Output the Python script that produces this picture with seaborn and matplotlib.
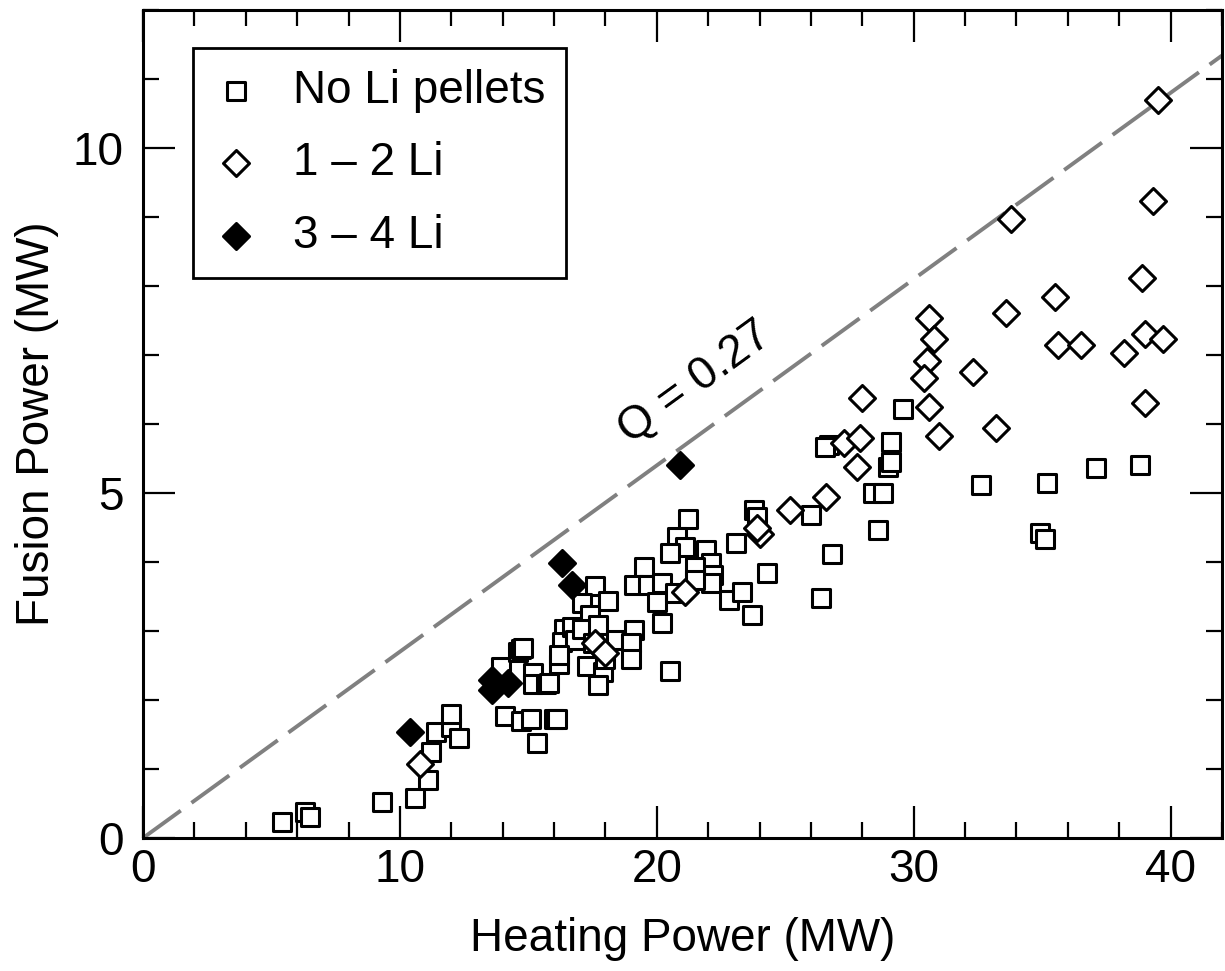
import matplotlib
matplotlib.use('Agg')
import matplotlib.pyplot as plt
from matplotlib.ticker import MultipleLocator
import numpy as np
import pandas as pd
import seaborn as sns

# data (MW)
no_li_x = [5.4, 6.3, 6.5, 9.3, 10.6, 11.1, 11.2, 11.4, 12.0, 12.0, 12.3,
           14.1, 14.7, 15.1, 16.0, 16.1, 15.35, 13.95, 14.6, 14.7, 14.8,
           15.2, 15.2, 15.7, 16.4, 16.3, 16.2, 16.7, 16.8, 16.2, 17.6, 18.1,
           17.1, 17.4, 17.1, 17.7, 18.4, 19.1, 19.0, 19.0, 17.3, 17.9, 17.7,
           20.5, 15.8, 21.2, 20.8, 21.1, 20.5, 21.9, 22.1, 22.2, 22.1, 19.5,
           19.1, 19.65, 20.2, 20.0, 20.2, 20.7, 21.5, 21.5, 22.8, 23.3, 23.7,
           23.8, 23.9, 23.1, 24.3, 26.0, 26.8, 26.4, 26.7, 26.55, 28.4, 28.8,
           28.6, 29.0, 29.1, 29.6, 29.1, 32.6, 35.2, 37.1, 38.8, 34.9, 35.1,
           17.5, 18.0]
no_li_y = [0.23, 0.38, 0.30, 0.52, 0.58, 0.84, 1.25, 1.54, 1.61, 1.80, 1.45,
           1.77, 1.70, 1.72, 1.72, 1.72, 1.38, 2.48, 2.70, 2.74, 2.75,
           2.39, 2.23, 2.23, 3.03, 2.84, 2.52, 3.06, 2.87, 2.65, 3.65, 3.43,
           3.40, 3.23, 3.03, 3.09, 2.87, 3.01, 2.83, 2.60, 2.50, 2.41, 2.22,
           2.42, 2.25, 4.62, 4.36, 4.22, 4.13, 4.17, 3.99, 3.81, 3.70, 3.93,
           3.67, 3.67, 3.70, 3.42, 3.12, 3.55, 3.93, 3.74, 3.45, 3.57, 3.23,
           4.75, 4.65, 4.28, 3.84, 4.68, 4.12, 3.48, 5.70, 5.66, 5.00, 5.00,
           4.46, 5.38, 5.74, 6.22, 5.45, 5.12, 5.14, 5.36, 5.41, 4.42, 4.33,
           2.82, 2.60]

li12_x = [10.8, 17.6, 18.0, 21.1, 24.0, 23.9, 25.2, 26.6, 27.3, 27.9, 27.8,
          28.0, 30.6, 30.8, 30.5, 30.4, 30.6, 31.0, 32.3, 33.2, 33.6, 33.8,
          35.5, 35.6, 36.5, 38.2, 39.0, 39.7, 39.0, 38.9, 39.3, 39.5]
li12_y = [1.07, 2.83, 2.68, 3.57, 4.41, 4.50, 4.75, 4.94, 5.72, 5.80, 5.38,
          6.38, 7.54, 7.23, 6.91, 6.67, 6.25, 5.83, 6.75, 5.94, 7.61, 8.97,
          7.84, 7.14, 7.14, 7.03, 7.30, 7.23, 6.30, 8.12, 9.23, 10.70]

li34_x = [10.4, 13.6, 13.6, 14.2, 16.3, 16.7, 20.9]
li34_y = [1.54, 2.29, 2.14, 2.25, 3.99, 3.67, 5.41]

Q = 0.27
x_max = 42
y_max = 12

sns.set_style("ticks")
plt.rcParams['font.family'] = ['Liberation Sans', 'DejaVu Sans']
plt.rcParams['text.color'] = 'black'
plt.rcParams['axes.labelcolor'] = 'black'
plt.rcParams['xtick.color'] = 'black'
plt.rcParams['ytick.color'] = 'black'

fig = plt.figure(figsize=(12.25, 9.71), dpi=100)
ax = fig.add_axes([143 / 1225, 1 - 838 / 971, (1222 - 143) / 1225, (838 - 10) / 971])

# Q = 0.27 reference line
qx = np.array([0, x_max])
ax.plot(qx, Q * qx, color='#808080', lw=2.8, linestyle=(0, (12, 3.4)), zorder=1)

ms = 175
sns.scatterplot(x=no_li_x, y=no_li_y, marker='s', s=ms, color='white',
                edgecolor='black', linewidth=2.2, label='No Li pellets', ax=ax, zorder=2)
sns.scatterplot(x=li12_x, y=li12_y, marker='D', s=ms, color='white',
                edgecolor='black', linewidth=2.2, label='1 – 2 Li', ax=ax, zorder=3)
sns.scatterplot(x=li34_x, y=li34_y, marker='D', s=ms, color='black',
                edgecolor='black', linewidth=2.2, label='3 – 4 Li', ax=ax, zorder=4)

ax.text(21.5, 6.6, 'Q = 0.27', rotation=36, ha='center', va='center',
        fontsize=33, rotation_mode='anchor')

ax.set_xlim(0, x_max)
ax.set_ylim(0, y_max)
ax.xaxis.set_major_locator(MultipleLocator(10))
ax.xaxis.set_minor_locator(MultipleLocator(2))
ax.yaxis.set_major_locator(MultipleLocator(5))
ax.yaxis.set_minor_locator(MultipleLocator(1))
ax.tick_params(which='both', direction='in', top=True, right=True, width=1.6,
               labelsize=33)
ax.tick_params(which='major', length=23)
ax.tick_params(which='minor', length=11.5)
ax.tick_params(axis='x', pad=7)
ax.tick_params(axis='y', pad=14)
for sp in ax.spines.values():
    sp.set_linewidth(2.2)
    sp.set_color('black')

ax.set_xlabel('Heating Power (MW)', fontsize=33, labelpad=18)
ax.set_ylabel('Fusion Power (MW)', fontsize=33, labelpad=10)

leg = ax.legend(loc='upper left', bbox_to_anchor=(0.046, 0.954), fontsize=33,
                frameon=True, fancybox=False, edgecolor='black', framealpha=1,
                handlelength=1.0, handletextpad=0.75, labelspacing=0.62,
                borderpad=0.45, borderaxespad=0, markerscale=1.0)
leg.get_frame().set_linewidth(2.0)

fig.savefig('out.png', dpi=100)
